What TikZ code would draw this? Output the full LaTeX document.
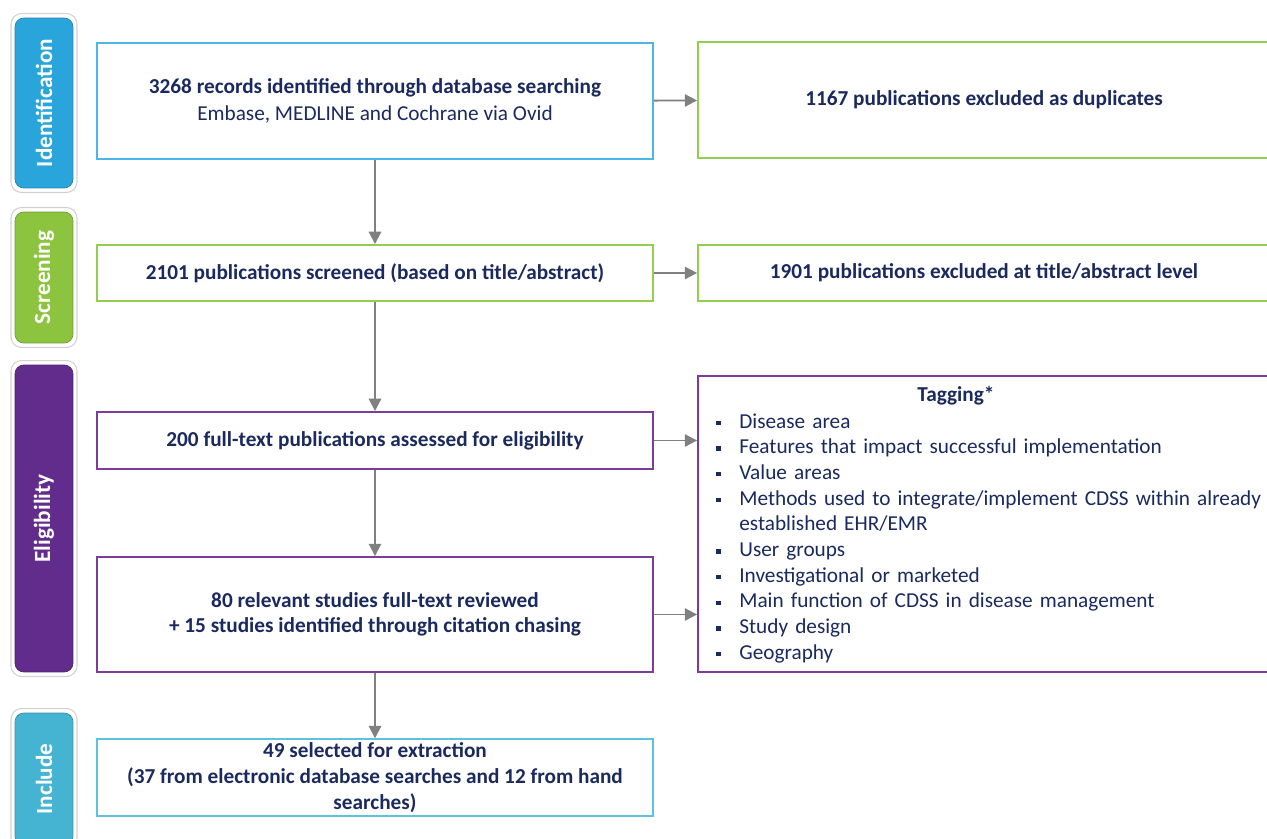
\documentclass[tikz,border=0pt]{standalone}
\usepackage{fontspec}
\setmainfont{Carlito}
\usetikzlibrary{arrows.meta}

\definecolor{navytext}{HTML}{1B2A5E}
\definecolor{idblue}{HTML}{2AA5DC}
\definecolor{scrgreen}{HTML}{8CC43F}
\definecolor{eligpurple}{HTML}{612C8C}
\definecolor{inclblue}{HTML}{45B4D3}
\definecolor{blueline}{HTML}{4BB7E9}
\definecolor{greenline}{HTML}{92CF4E}
\definecolor{purpleline}{HTML}{7C3C98}
\definecolor{cyanline}{HTML}{5CC3DF}
\definecolor{arrowgray}{HTML}{808080}

\tikzset{
  flowbox/.style={draw, line width=1.1pt, fill=white, text=navytext, align=center,
    font=\fontsize{12.1}{14.6}\selectfont\bfseries, inner sep=2pt},
  stagering/.style={draw=gray!35, line width=0.6pt, fill=white, rounded corners=6pt,
    rotate=90, minimum height=1.32cm},
  stagebox/.style={rounded corners=5pt, text=white, rotate=90, minimum height=1.16cm,
    font=\fontsize{13.2}{15}\selectfont\bfseries},
  flowarrow/.style={draw=arrowgray, line width=1.1pt, -{Triangle[length=7pt,width=7pt]}}
}

\newcommand{\tagsquare}{\rule[0.3ex]{0.42ex}{0.42ex}}
\newcommand{\tagitem}[1]{\par\noindent\hangindent=0.68cm\hangafter=1%
  \makebox[0.68cm][l]{\hspace{0.22cm}\tagsquare}#1}

\begin{document}
\begin{tikzpicture}[x=0.02cm, y=-0.02cm]

\useasboundingbox (0,0) rectangle (1267,838);

% Stage labels on the left
\foreach \name/\yc/\len/\col/\txt in {ident/103/3.4/idblue/Identification,
    screen/277.5/2.62/scrgreen/Screening,
    elig/518.5/6.14/eligpurple/Eligibility,
    incl/779/2.64/inclblue/Include}
{
  \node[stagering, minimum width=\len cm+0.18cm] at (44,\yc) {};
  \node[stagebox, fill=\col, draw=\col!80!black, line width=0.4pt,
        minimum width=\len cm] (\name) at (44,\yc) {\txt};
}

% Main column
\node[flowbox, draw=blueline, minimum width=11.12cm, minimum height=2.32cm,
      font=\fontsize{12.1}{15.4}\selectfont\bfseries]
    (records) at (375,101)
    {3268 records identified through database searching\\
     \mdseries Embase, MEDLINE and Cochrane via Ovid};

\node[flowbox, draw=greenline, minimum width=11.12cm, minimum height=1.12cm]
    (screened) at (375,273)
    {2101 publications screened (based on title/abstract)};

\node[flowbox, draw=purpleline, minimum width=11.12cm, minimum height=1.14cm]
    (fulltext) at (375,440.5)
    {200 full-text publications assessed for eligibility};

\node[flowbox, draw=purpleline, minimum width=11.12cm, minimum height=2.3cm]
    (reviewed) at (375,614.5)
    {80 relevant studies full-text reviewed\\
     + 15 studies identified through citation chasing};

\node[flowbox, draw=cyanline, minimum width=11.12cm, minimum height=1.5cm]
    (selected) at (375,777.5)
    {49 selected for extraction\\
     (37 from electronic database searches and 12 from hand\\
     searches)};

% Exclusions and tagging on the right
\node[flowbox, draw=greenline, minimum width=11.44cm, minimum height=2.32cm]
    (dupl) at (984,100)
    {1167 publications excluded as duplicates};

\node[flowbox, draw=greenline, minimum width=11.44cm, minimum height=1.12cm]
    (exclabs) at (984,273)
    {1901 publications excluded at title/abstract level};

\node[flowbox, draw=purpleline, minimum width=11.44cm, minimum height=5.92cm]
    (tagging) at (984,524) {};

\node[text=navytext, font=\fontsize{12.1}{14.6}\selectfont\bfseries]
    (tagtitle) at (956,396) {Tagging*};

\node[anchor=north west, inner sep=0pt, text width=12cm, text=navytext,
      font=\fontsize{12.1}{14.63}\selectfont]
    (taglist) at (705,402)
    {\raggedright
     \tagitem{Disease area}
     \tagitem{Features that impact successful implementation}
     \tagitem{Value areas}
     \tagitem{Methods used to integrate/implement CDSS within already\newline
              established EHR/EMR}
     \tagitem{User groups}
     \tagitem{Investigational or marketed}
     \tagitem{Main function of CDSS in disease management}
     \tagitem{Study design}
     \tagitem{Geography}};

% Arrows
\draw[flowarrow] (records) -- (screened);
\draw[flowarrow] (screened) -- (fulltext);
\draw[flowarrow] (fulltext) -- (reviewed);
\draw[flowarrow] (reviewed) -- (selected);

\draw[flowarrow] (records) -- (dupl);
\draw[flowarrow] (screened) -- (exclabs);
\draw[flowarrow] (fulltext.east) -- (fulltext.east -| tagging.west);
\draw[flowarrow] (reviewed.east) -- (reviewed.east -| tagging.west);

\end{tikzpicture}
\end{document}
